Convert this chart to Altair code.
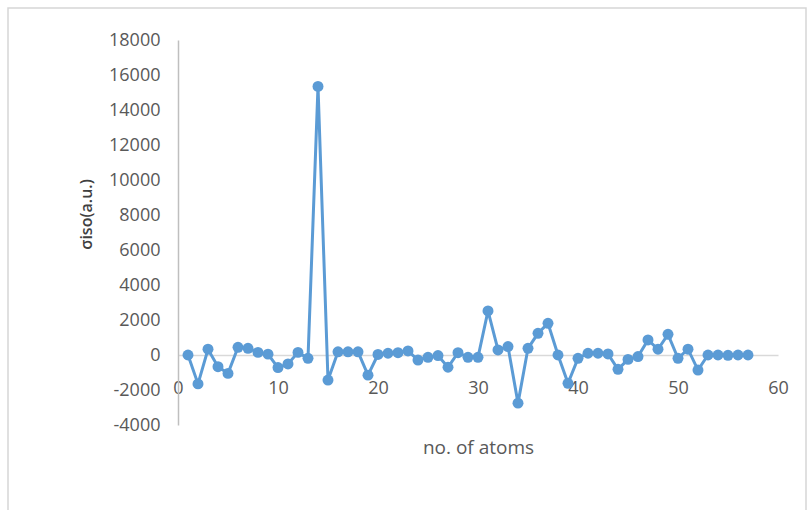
import altair as alt
import pandas as pd

atoms = list(range(1, 58))
sigma_iso = [0, -1650, 330, -670, -1050, 440, 380, 150, 50, -720,
             -510, 150, -190, 15350, -1430, 180, 180, 180, -1150, 30,
             100, 130, 230, -290, -130, -30, -700, 130, -130, -130,
             2520, 290, 480, -2750, 380, 1240, 1810, 0, -1620, -190,
             100, 100, 60, -820, -250, -90, 860, 330, 1180, -190,
             330, -860, 0, 0, -20, 0, 0]
x_ticks = [0, 10, 20, 30, 40, 50, 60]
y_ticks = [-4000, -2000, 0, 2000, 4000, 6000, 8000, 10000, 12000, 14000, 16000, 18000]

df = pd.DataFrame({"atom": atoms, "sigma": sigma_iso})

FONT = "Open Sans"
BLUE = "#5B9BD5"

x_enc = alt.X(
    "atom:Q",
    scale=alt.Scale(domain=[0, 60], nice=False, zero=False),
    axis=alt.Axis(
        values=x_ticks, title="no. of atoms", offset=-70,
        domainColor="#D9D9D9", domainWidth=1.5, ticks=False, grid=False,
        labelPadding=24, labelFontSize=18, labelColor="#595959", labelFont=FONT,
        labelFlush=False, labelOverlap=False,
        titleFontSize=19, titleColor="#595959", titleFont=FONT, titleFontWeight="normal",
        titleY=92, titleBaseline="middle",
    ),
)
y_enc = alt.Y(
    "sigma:Q",
    scale=alt.Scale(domain=[-4000, 18000], nice=False),
    axis=alt.Axis(
        values=y_ticks, labelExpr="toString(datum.value)", title="σiso(a.u.)",
        domainColor="#BFBFBF", domainWidth=1.5, ticks=False, grid=False,
        labelPadding=18, labelFontSize=18, labelColor="#595959", labelFont=FONT,
        labelFlush=False, labelOverlap=False,
        titleFontSize=16, titleColor="#404040", titleFont=FONT, titleFontWeight=600,
        titleX=-92, titleY=174, titleBaseline="middle", titleAlign="center", titleAngle=270,
    ),
)

line = alt.Chart(df).mark_line(color=BLUE, strokeWidth=3).encode(x=x_enc, y=y_enc)
pts = alt.Chart(df).mark_circle(color=BLUE, size=120, opacity=1).encode(x=x_enc, y=y_enc)

frame = alt.Chart(pd.DataFrame({"a": [0]})).mark_rect(
    fill=None, stroke="#D6D6D6", strokeWidth=1.5, clip=False
).encode(
    x=alt.value(-170), x2=alt.value(628), y=alt.value(-32), y2=alt.value(480)
)

chart = alt.layer(frame, line, pts).properties(
    width=600, height=385,
    autosize=alt.AutoSizeParams(type="none"),
    padding={"left": 178, "top": 40, "right": 30, "bottom": 85},
    background="white",
).configure_view(strokeWidth=0, stroke=None).configure_axis(labelOverlap=False)

chart.save("out.html", embed_options={"renderer": "svg", "actions": False})
